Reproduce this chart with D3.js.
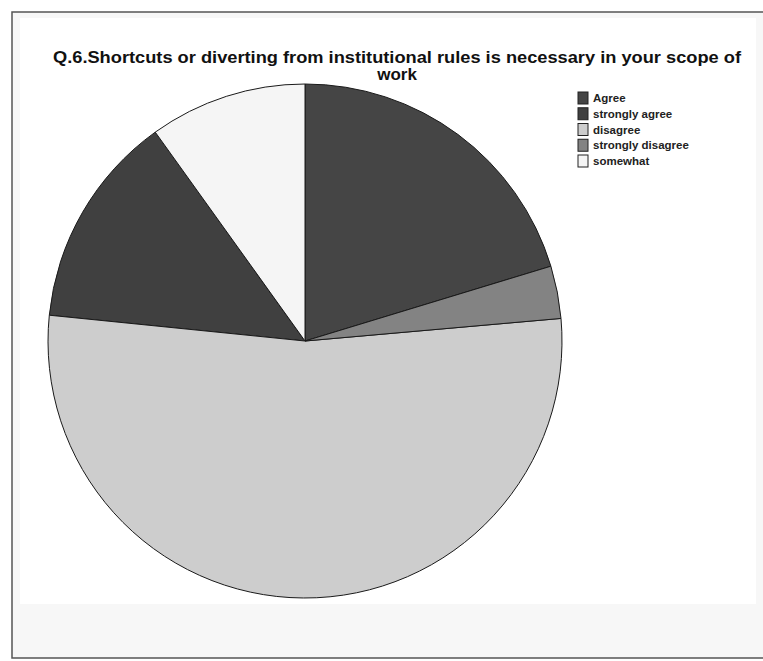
<!DOCTYPE html>
<html>
<head>
<meta charset="utf-8">
<script src="https://cdn.jsdelivr.net/npm/d3@7"></script>
<style>
  html, body { margin: 0; padding: 0; background: #ffffff; }
  svg { display: block; }
</style>
</head>
<body>
<script>
// ---- data (percent of circle) ----
const titleLines = ["Q.6.Shortcuts or diverting from institutional rules is necessary in your scope of", "work"];
const categories = ["Agree", "strongly agree", "disagree", "strongly disagree", "somewhat"];
const values = [20.3, 13.5, 53.0, 3.3, 9.9];
const drawOrder = ["Agree", "strongly disagree", "disagree", "strongly agree", "somewhat"];
const colors = ["#454545", "#404040", "#cdcdcd", "#838383", "#f5f5f5"];

const W = 763, H = 661;
const svg = d3.select("body").append("svg").attr("width", W).attr("height", H);

// background / frame
svg.append("rect").attr("x", 0).attr("y", 0).attr("width", W).attr("height", H).attr("fill", "#ffffff");
svg.append("rect").attr("x", 12).attr("y", 12).attr("width", W - 12).attr("height", 646)
  .attr("fill", "#f7f7f7").attr("stroke", "none");
svg.append("rect").attr("x", 20).attr("y", 18).attr("width", 736).attr("height", 586)
  .attr("fill", "#ffffff");
svg.append("path").attr("d", `M${W},12 H12 V658 H${W}`)
  .attr("fill", "none").attr("stroke", "#555555").attr("stroke-width", 1.5);

// title
const titleFont = 16.5;
titleLines.forEach((t, i) => {
  const tx = svg.append("text").attr("text-anchor", "middle")
    .attr("font-family", "Liberation Sans, Arial, sans-serif")
    .attr("font-weight", "bold").attr("font-size", titleFont).attr("fill", "#111111")
    .attr("x", 397).attr("y", 63 + i * 17).text(t);
  if (i === 0) tx.attr("textLength", 688).attr("lengthAdjust", "spacingAndGlyphs");
  else tx.attr("font-size", titleFont + 0.5);
});

// pie
const data = categories.map((c, i) => ({ cat: c, value: values[i], color: colors[i] }));
const pie = d3.pie().value(d => d.value)
  .sort((a, b) => drawOrder.indexOf(a.cat) - drawOrder.indexOf(b.cat));
const cx = 305, cy = 341, r = 257;
const arc = d3.arc().innerRadius(0).outerRadius(r);
const g = svg.append("g").attr("transform", `translate(${cx},${cy})`);
g.selectAll("path").data(pie(data)).join("path")
  .attr("d", arc)
  .attr("fill", d => d.data.color)
  .attr("stroke", "#1a1a1a").attr("stroke-width", 1);

// legend
const color = d3.scaleOrdinal().domain(categories).range(colors);
const ly = d3.scalePoint().domain(categories).range([98, 161]);
const lg = svg.append("g");
const items = lg.selectAll("g").data(categories).join("g")
  .attr("transform", d => `translate(578,${ly(d)})`);
items.append("rect").attr("x", 0).attr("y", -6).attr("width", 10).attr("height", 12)
  .attr("fill", d => color(d)).attr("stroke", "#222222").attr("stroke-width", 1);
items.append("text").attr("x", 15).attr("y", 4)
  .attr("font-family", "Liberation Sans, Arial, sans-serif")
  .attr("font-weight", "bold").attr("font-size", 11.5).attr("fill", "#222222")
  .text(d => d);
</script>
</body>
</html>
